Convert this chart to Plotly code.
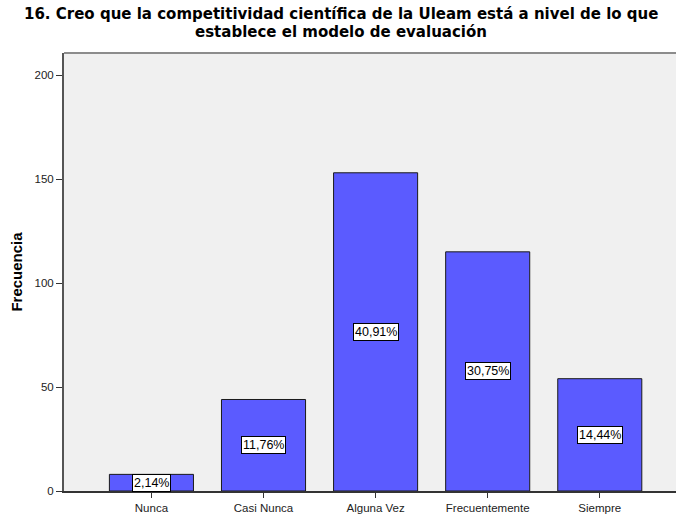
import plotly.graph_objects as go

categories = ["Nunca", "Casi Nunca", "Alguna Vez", "Frecuentemente", "Siempre"]
counts = [8, 44, 153, 115, 54]
percent_labels = ["2,14%", "11,76%", "40,91%", "30,75%", "14,44%"]
y_ticks = [0, 50, 100, 150, 200]
title_lines = [
    "16. Creo que la competitividad científica de la Uleam está a nivel de lo que",
    "establece el modelo de evaluación",
]

fig = go.Figure()
fig.add_trace(go.Bar(
    x=categories, y=counts, width=0.75,
    marker=dict(color="#5b5bff", line=dict(color="#1a1a1a", width=1)),
    hoverinfo="skip",
))

for c, v, t in zip(categories, counts, percent_labels):
    fig.add_annotation(
        x=c, y=v / 2, text=t, showarrow=False,
        font=dict(family="Liberation Sans, Arial", size=12.5, color="#000"),
        bgcolor="white", bordercolor="#000", borderwidth=1, borderpad=1,
    )

# title lines (plot area spans pixels 53..491 vertically)
for line, ypix in zip(title_lines, [14, 32]):
    fig.add_annotation(
        xref="paper", yref="paper", x=(341 - 64) / 612, y=(491 - ypix) / 438,
        xanchor="center", yanchor="middle", text=f"<b>{line}</b>", showarrow=False,
        font=dict(family="DejaVu Sans", size=15, color="#000"),
    )

fig.update_layout(
    width=676, height=514,
    margin=dict(l=64, r=0, t=53, b=23),
    paper_bgcolor="white", plot_bgcolor="#f0f0f0",
    showlegend=False,
    font=dict(family="Liberation Sans, Arial", size=11.5, color="#222"),
    bargap=0.25,
)

fig.update_xaxes(
    range=[-0.78, 4.68], showgrid=False, zeroline=False,
    showline=True, linecolor="#333", linewidth=2,
    ticks="outside", ticklen=5, tickcolor="#333", tickwidth=1,
    tickfont=dict(size=11.5, color="#222"),
)
fig.update_yaxes(
    range=[0, 210.6], showgrid=False, zeroline=False,
    showline=True, linecolor="#555", linewidth=2,
    tickvals=y_ticks, ticks="outside", ticklen=6, tickcolor="#333", tickwidth=1,
    tickfont=dict(size=11.5, color="#222"),
    title=dict(text="<b>Frecuencia</b>", font=dict(size=15, color="#000"), standoff=8),
)

fig.add_shape(type="line", xref="paper", yref="paper", x0=0, x1=1, y0=1, y1=1,
              line=dict(color="#8c8c8c", width=2))

fig.write_html(
    "out.html",
    config={"displayModeBar": False},
    post_script="document.body.style.margin='0';document.body.style.overflow='hidden';",
)
